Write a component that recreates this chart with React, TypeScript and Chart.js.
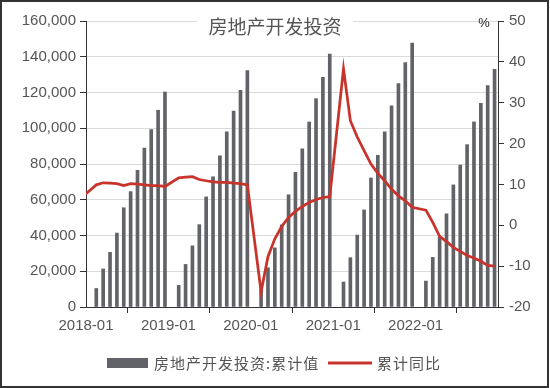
import React, { useEffect, useRef } from "react";
import { Chart, registerables } from "chart.js";

Chart.register(...registerables);

// Data (亿元 / %)
const years = ["2018", "2019", "2020", "2021", "2022"];
const monthsShown = ["02", "03", "04", "05", "06", "07", "08", "09", "10", "11", "12"];
const investment2018 = [10357, 21291, 30592, 41349, 55531, 64564, 76519, 88948, 99325, 110083, 120264];
const investment2019 = [12090, 23803, 34217, 46075, 61609, 72843, 84589, 98008, 109603, 121265, 132194];
const investment2020 = [10115, 21963, 33103, 45920, 62780, 75325, 88454, 103484, 116556, 128492, 141443];
const investment2021 = [13986, 27576, 40240, 54318, 72179, 84895, 98061, 112559, 124934, 136804, 147602];
const investment2022 = [14499, 27765, 39154, 52134, 68314, 79462, 90809, 103559, 113945, 123863, 132895];
const yoyDec2017 = 7.0;
const yoy2018 = [9.9, 10.4, 10.3, 10.2, 9.7, 10.2, 10.1, 9.9, 9.7, 9.7, 9.5];
const yoy2019 = [11.6, 11.8, 11.9, 11.2, 10.9, 10.6, 10.5, 10.5, 10.3, 10.2, 9.9];
const yoy2020 = [-16.3, -7.7, -3.3, -0.3, 1.9, 3.4, 4.6, 5.6, 6.3, 6.8, 7.0];
const yoy2021 = [38.3, 25.6, 21.6, 18.3, 15.0, 12.7, 10.9, 8.8, 7.2, 6.0, 4.4];
const yoy2022 = [3.7, 0.7, -2.7, -4.0, -5.4, -6.4, -7.4, -8.0, -8.8, -9.8, -10.0];
const xTickLabels = ["2018-01", "2019-01", "2020-01", "2021-01", "2022-01"];
const chartTitle = "房地产开发投资";
const barLabel = "房地产开发投资:累计值";
const lineLabel = "累计同比";
const rightUnit = "%";

const investmentByYear = [investment2018, investment2019, investment2020, investment2021, investment2022];
const yoyByYear = [yoy2018, yoy2019, yoy2020, yoy2021, yoy2022];

const BAR_COLOR = "#616368";
const LINE_COLOR = "#c8342c";
const TEXT_COLOR = "#555555";
const AXIS_COLOR = "#333333";
const GRID_COLOR = "#dadada";
const NUM_FONT = "'Liberation Sans', Arial, sans-serif";
const CJK_FONT = "'Noto Sans CJK SC', 'Noto Sans', sans-serif";

function monthX(yearIdx: number, monthStr: string) {
  return yearIdx * 12 + (parseInt(monthStr, 10) - 1) + 0.5;
}

export default function App() {
  const ref = useRef<HTMLCanvasElement | null>(null);

  useEffect(() => {
    if (!ref.current) return;
    const barPts: { x: number; y: number }[] = [];
    const linePts: { x: number; y: number }[] = [{ x: -0.5, y: yoyDec2017 }];
    years.forEach((_, yi) => {
      monthsShown.forEach((m, mi) => {
        barPts.push({ x: monthX(yi, m), y: investmentByYear[yi][mi] });
        linePts.push({ x: monthX(yi, m), y: yoyByYear[yi][mi] });
      });
    });

    const decorPlugin = {
      id: "decor",
      beforeDatasetsDraw(chart: any) {
        const ctx = chart.ctx;
        const area = chart.chartArea;
        const cx = (area.left + area.right) / 2 + 0;
        ctx.save();
        ctx.fillStyle = "#ffffff";
        ctx.fillRect(197, 13, 156, 28);
        ctx.font = `19px ${CJK_FONT}`;
        ctx.fillStyle = TEXT_COLOR;
        ctx.textAlign = "center";
        ctx.textBaseline = "middle";
        ctx.fillText(chartTitle, 275, 27);
        ctx.restore();
      },
      afterDraw(chart: any) {
        const ctx = chart.ctx;
        ctx.save();
        // unit label
        ctx.font = `13px ${NUM_FONT}`;
        ctx.fillStyle = "#222222";
        ctx.textAlign = "center";
        ctx.textBaseline = "middle";
        ctx.fillText(rightUnit, 484, 23);
        // legend
        ctx.fillStyle = BAR_COLOR;
        ctx.fillRect(107, 358, 41, 10);
        ctx.font = `15px ${CJK_FONT}`;
        (ctx as any).letterSpacing = "1px";
        ctx.fillStyle = TEXT_COLOR;
        ctx.textAlign = "left";
        ctx.textBaseline = "middle";
        ctx.fillText(barLabel, 154, 363);
        ctx.strokeStyle = LINE_COLOR;
        ctx.lineWidth = 3;
        ctx.beginPath();
        ctx.moveTo(328, 363);
        ctx.lineTo(372, 363);
        ctx.stroke();
        ctx.fillText(lineLabel, 377, 363);
        (ctx as any).letterSpacing = "0px";
        // outer border
        ctx.strokeStyle = "#333333";
        ctx.lineWidth = 2;
        ctx.strokeRect(1, 1, 547, 386);
        ctx.restore();
      },
    };

    const chart = new Chart(ref.current, {
      type: "bar",
      data: {
        datasets: [
          {
            type: "line",
            label: lineLabel,
            data: linePts,
            yAxisID: "y1",
            xAxisID: "x",
            borderColor: LINE_COLOR,
            backgroundColor: LINE_COLOR,
            borderWidth: 2.75,
            pointRadius: 0,
            tension: 0,
            order: 0,
          } as any,
          {
            type: "bar",
            label: barLabel,
            data: barPts,
            yAxisID: "y",
            xAxisID: "x",
            backgroundColor: BAR_COLOR,
            barThickness: 3,
            order: 1,
          } as any,
        ],
      },
      options: {
        responsive: false,
        animation: false,
        events: [],
        layout: { padding: { top: 21, left: 0, right: 0, bottom: 0 } },
        plugins: {
          legend: { display: false },
          title: { display: false },
          tooltip: { enabled: false },
        },
        scales: {
          x: {
            type: "linear",
            position: "bottom",
            min: 0,
            max: 60,
            offset: false,
            afterFit: (s: any) => {
              s.height = 81;
            },
            afterBuildTicks: (s: any) => {
              s.ticks = [0, 12, 24, 36, 48, 60].map((v) => ({ value: v }));
            },
            ticks: {
              autoSkip: false,
              maxRotation: 0,
              minRotation: 0,
              padding: 4,
              color: TEXT_COLOR,
              font: { size: 15, family: NUM_FONT },
              callback: (v: any) => {
                const i = Math.round(Number(v) / 12);
                return xTickLabels[i] ?? "";
              },
            },
            grid: {
              drawOnChartArea: false,
              drawTicks: true,
              tickLength: 6,
              tickColor: AXIS_COLOR,
              color: AXIS_COLOR,
            },
            border: { display: true, color: AXIS_COLOR, width: 1 },
          } as any,
          y: {
            type: "linear",
            position: "left",
            min: 0,
            max: 160000,
            afterFit: (s: any) => {
              s.width = 86;
            },
            ticks: {
              stepSize: 20000,
              padding: 4,
              color: TEXT_COLOR,
              font: { size: 15, family: NUM_FONT },
              callback: (v: any) => Number(v).toLocaleString("en-US"),
            },
            grid: {
              color: GRID_COLOR,
              drawTicks: true,
              tickLength: 6,
              tickColor: AXIS_COLOR,
            },
            border: { display: true, color: AXIS_COLOR, width: 1 },
          } as any,
          y1: {
            type: "linear",
            position: "right",
            min: -20,
            max: 50,
            afterFit: (s: any) => {
              s.width = 52;
            },
            ticks: {
              stepSize: 10,
              padding: 5,
              color: TEXT_COLOR,
              font: { size: 15, family: NUM_FONT },
            },
            grid: {
              drawOnChartArea: false,
              drawTicks: true,
              tickLength: 6,
              tickColor: AXIS_COLOR,
              color: AXIS_COLOR,
            },
            border: { display: true, color: AXIS_COLOR, width: 1 },
          } as any,
        },
      } as any,
      plugins: [decorPlugin],
    });
    return () => chart.destroy();
  }, []);

  return (
    <div style={{ position: "absolute", left: 0, top: 0, width: 550, height: 388, background: "#fff" }}>
      <canvas ref={ref} width={550} height={388} style={{ display: "block" }} />
    </div>
  );
}
